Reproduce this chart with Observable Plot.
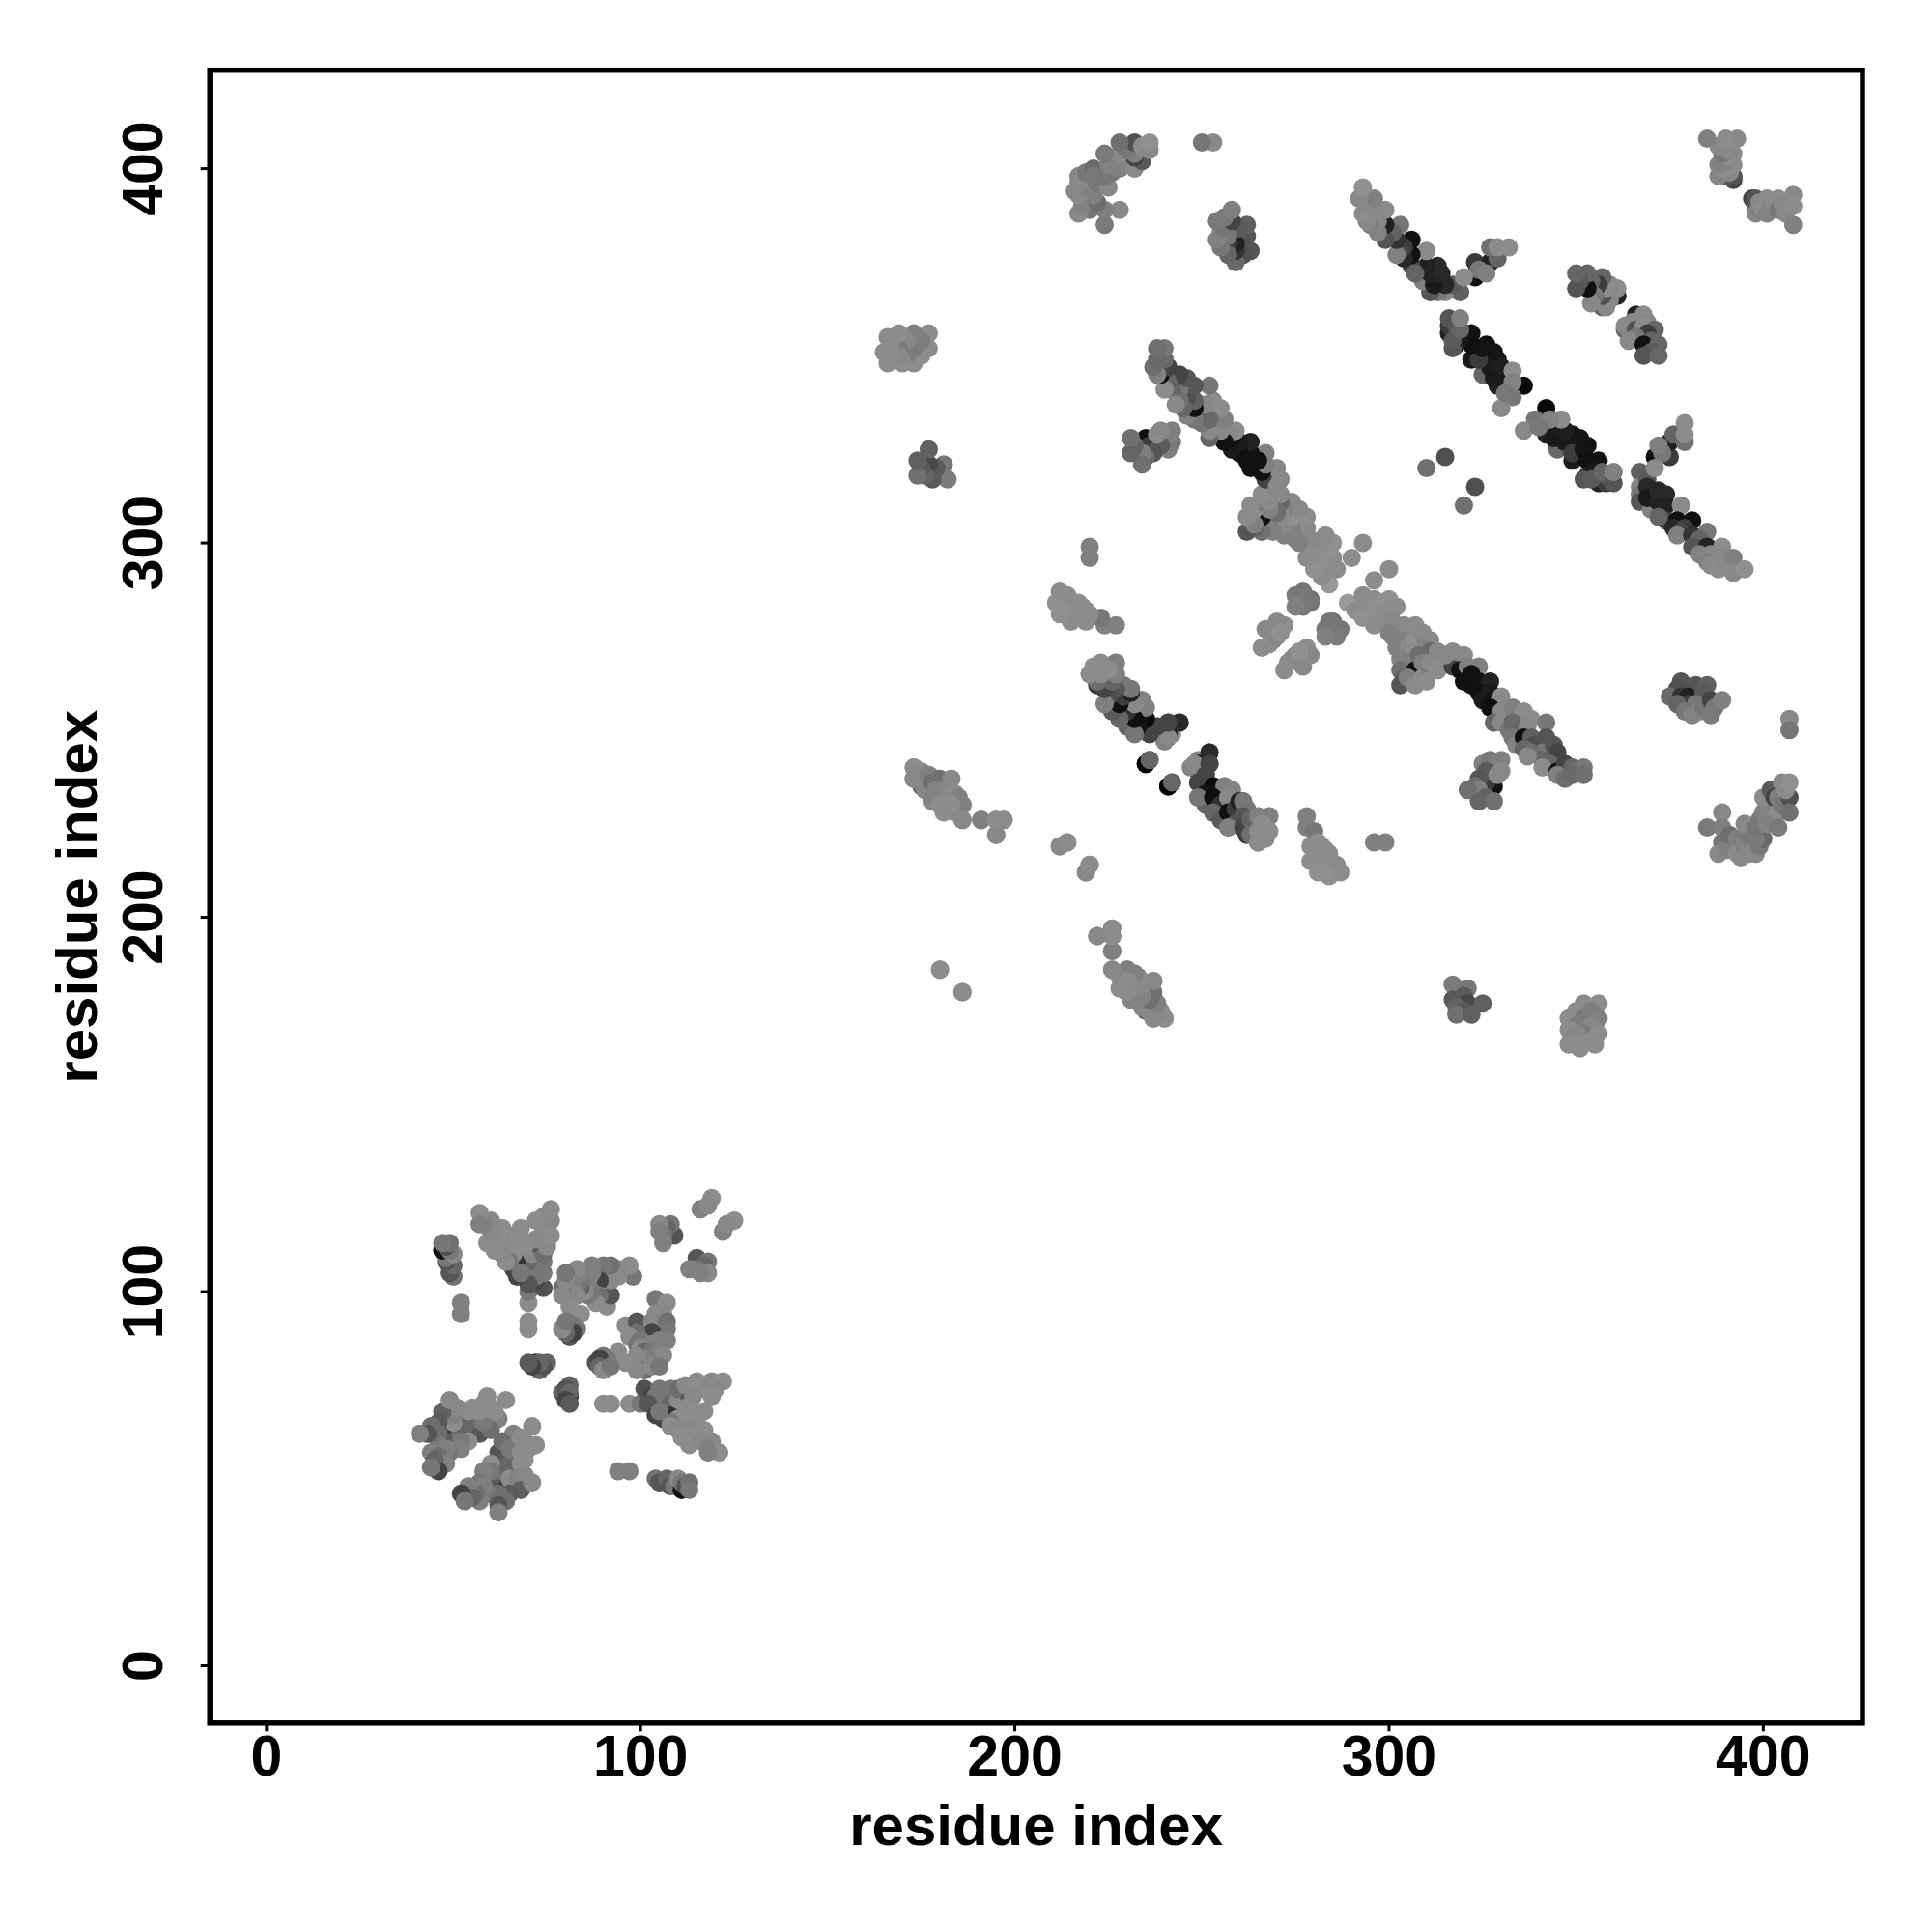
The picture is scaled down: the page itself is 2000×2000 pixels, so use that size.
<!DOCTYPE html>
<html>
<head>
<meta charset="utf-8">
<style>html,body{margin:0;padding:0;background:#fff}</style>
<script src="https://cdn.jsdelivr.net/npm/d3@7"></script>
<script src="https://cdn.jsdelivr.net/npm/@observablehq/plot@0.6"></script>
</head>
<body>
<div id="chart"></div>
<script>
// Each contact: [residue a, residue b, gray level]. The map is symmetric, so one triangle is listed.
const bandTopRight = [[342,336,10],[339,333,119],[336,330,136],[342,331,85],[342,329,34],[345,329,26],[349,329,24],[345,326,26],[349,326,26],[345,325,102],[353,326,17],[349,322,26],[344,328,26],[347,327,26],[351,324,17],[351,328,20],[347,330,30],[349,324,60],[352,325,20],[346,333,140],[343,333,130],[340,331,120],[353,322,17],[356,322,17],[353,318,34],[352,317,85],[355,319,26],[356,316,34],[358,316,60],[354,317,90],[358,318,90],[357,319,102],[360,316,85],[360,319,128]];
const bandBranch = [[367,319,96],[367,315,136],[367,313,119],[367,311,85],[369,317,90],[370,309,128],[370,314,34],[369,315,40],[371,312,34],[369,312,26],[372,311,34],[372,314,40],[374,313,42],[374,310,34],[378,310,138],[371,323,17],[375,323,58],[375,327,34],[373,324,120],[372,326,128],[371,320,140],[376,329,100],[379,327,112],[379,329,140],[379,332,140],[374,306,68],[377,306,17],[381,306,17],[376,304,40],[379,304,60],[372,307,100],[378,303,70],[377,302,128],[381,302,51],[385,303,119],[383,301,100],[381,299,85],[385,299,34],[383,297,130],[389,299,140],[386,297,136],[385,295,128],[386,294,136],[389,296,136],[388,293,140],[390,294,136],[392,296,128],[392,292,136],[395,293,144]];
const blockFarCorner = [[397,392,68],[398,392,85],[398,390,90],[398,388,136],[399,389,128],[399,391,136],[400,389,140],[401,392,140],[401,388,130],[402,390,130],[403,391,140],[404,392,140],[404,389,119],[405,391,136],[406,388,136],[408,393,136],[408,390,140],[408,385,128]];
const blockMidRight = [[366,361,34],[368,361,140],[369,359,136],[365,359,136],[363,357,102],[363,358,136],[366,357,80],[368,358,140],[371,357,102],[369,356,60],[366,355,120],[364,354,136],[370,354,100],[368,353,17],[372,353,102],[370,351,90],[368,350,85],[372,350,102]];
const twoPairs = [[320,310,112],[323,315,80]];
const blockRight = [[378,263,85],[382,262,85],[385,262,96],[377,261,80],[375,259,106],[378,259,51],[380,259,34],[384,260,90],[380,257,60],[377,257,100],[379,255,119],[382,257,119],[383,255,136],[381,254,130],[384,256,119],[386,258,68],[387,256,120],[386,254,122],[389,258,128],[407,253,136],[407,250,119]];
const blockHook = [[385,224,122],[389,228,136],[389,224,128],[389,220,119],[388,217,136],[390,218,130],[391,219,128],[391,222,110],[393,221,128],[393,217,138],[394,216,136],[395,219,130],[396,222,120],[396,217,136],[398,217,136],[395,225,136],[399,219,120],[400,221,106],[398,221,122],[398,224,119],[399,226,120],[401,225,130],[400,228,128],[402,229,130],[400,232,138],[402,234,90],[403,232,68],[404,232,128],[404,228,138],[405,230,120],[404,224,122],[407,232,80],[407,228,112],[406,234,140],[405,236,136],[407,236,143]];
const bandMiddle = [[289,284,153],[291,282,140],[293,286,140],[295,284,140],[296,285,140],[298,284,144],[300,285,144],[293,283,140],[294,281,140],[293,280,144],[296,282,143],[298,280,140],[300,282,140],[302,283,140],[296,278,140],[301,279,136],[300,276,128],[296,290,140],[300,293,140],[304,278,136],[305,276,140],[307,278,140],[304,274,128],[301,275,128],[302,272,128],[305,272,136],[307,274,144],[309,276,136],[311,274,136],[309,272,128],[307,271,140],[311,271,102],[303,269,128],[305,268,128],[303,266,112],[304,264,96],[303,262,85],[306,263,96],[307,266,17],[308,270,110],[305,264,128],[307,262,138],[309,268,128],[309,264,140],[311,266,119],[311,268,136],[310,263,140],[313,271,136],[313,266,140],[315,270,128],[317,267,68],[315,270,136],[317,271,136],[320,270,136],[319,266,17],[321,267,128],[324,267,128]];
const bandMiddleDark = [[320,263,17],[322,265,17],[322,262,17],[324,263,17],[326,261,26],[327,263,34],[324,260,17],[325,258,26],[327,260,26],[328,258,20],[330,259,140],[329,257,136],[327,256,17],[330,255,136],[328,252,102],[331,254,136],[330,252,136],[333,256,128],[334,253,128],[336,255,140],[338,253,140],[332,250,119],[333,252,106],[335,250,102],[333,248,119],[334,246,130],[337,251,136],[336,248,17],[342,252,119],[338,248,96],[339,246,80],[342,248,85],[336,245,102],[341,244,119],[338,244,110],[344,246,85],[345,244,68],[341,242,102],[343,241,102],[341,240,140],[337,243,136],[345,239,17],[347,241,68],[345,238,128],[347,237,110],[349,240,102],[350,239,110],[352,240,119],[349,238,106],[352,238,112]];
const crossSmall = [[285,279,112],[284,279,119],[287,277,119],[283,277,119],[286,275,122],[283,275,128],[272,266,140],[273,268,140],[274,269,140],[277,269,136],[277,267,136],[278,272,140],[279,270,136],[275,270,136],[276,271,144]];
const blockUnderBand = [[328,235,17],[326,236,60],[325,241,128],[327,242,120],[329,241,128],[330,242,128],[326,239,90],[329,238,140],[330,239,136],[324,237,85],[323,235,110],[324,234,128],[321,234,112],[324,231,102],[326,232,100],[328,231,112]];
const bandLower = [[220,265,140],[223,267,144],[225,266,140],[227,268,140],[223,264,144],[226,263,140],[227,265,128],[224,261,58],[222,262,60],[226,259,60],[228,261,80],[231,261,128],[230,259,90],[224,257,128],[228,257,34],[230,255,40],[232,257,138],[234,258,138],[235,256,140],[234,255,20],[228,253,102],[230,251,100],[232,253,10],[235,253,15],[234,251,30],[232,249,119],[236,249,68],[238,251,90],[239,249,100],[241,252,85],[244,252,34],[241,249,0],[242,249,140],[235,241,0],[236,242,102],[241,235,0],[242,236,102],[249,241,0],[250,239,60],[247,240,130],[248,241,136],[252,244,42],[252,241,68],[249,236,68],[251,238,68],[253,235,10],[251,233,20],[255,234,20],[256,235,128],[258,234,130],[249,232,119],[253,232,15],[255,230,50],[257,232,136],[253,228,102],[255,226,90],[257,228,17],[259,229,60],[260,231,34],[262,229,119],[261,231,119],[261,227,85],[259,225,80],[257,224,128],[261,224,68],[263,226,100],[263,222,110],[265,227,128],[268,227,128],[266,225,140],[265,223,140],[268,223,140],[267,221,140],[265,220,140]];
const blockLowerSide = [[278,227,128],[278,224,128],[280,223,119],[281,220,140],[282,219,140],[279,219,140],[280,217,140],[279,215,140],[282,215,140],[284,217,140],[284,215,140],[283,213,140],[281,212,144],[283,212,144],[285,213,144],[286,214,140],[284,211,144],[287,212,140],[283,218,140],[296,220,128],[299,220,128],[212,219,128],[214,220,136],[219,212,136],[220,214,140]];
const blockBottomMid = [[222,195,140],[226,197,140],[226,195,140],[226,191,136],[226,186,140],[228,184,140],[230,186,136],[233,184,140],[232,182,136],[235,182,136],[237,183,136],[230,180,140],[232,178,128],[231,178,136],[234,180,140],[237,179,112],[236,178,120],[234,176,119],[235,175,110],[238,177,128],[237,173,128],[238,174,128],[239,175,140],[240,173,143],[180,186,140],[186,180,140]];
const blockArmLeft = [[173,240,140],[173,237,136],[174,238,136],[175,236,136],[177,238,128],[176,234,136],[178,236,112],[180,237,112],[183,237,136],[179,234,130],[178,232,130],[182,234,136],[184,233,140],[185,232,128],[182,231,136],[180,230,140],[181,228,140],[184,229,136],[186,230,128],[183,230,140],[186,226,136],[191,226,128],[195,226,140],[197,226,140],[195,222,136]];
const blockFarRight = [[317,182,124],[321,181,120],[317,178,90],[320,179,90],[321,177,72],[325,177,96],[318,176,100],[320,175,90],[318,174,112],[322,174,96],[352,177,140],[356,177,140],[348,173,140],[350,175,140],[352,173,122],[354,175,125],[356,173,128],[350,171,125],[354,171,135],[348,170,140],[352,169,122],[350,169,135],[356,169,140],[348,166,140],[350,167,140],[354,167,140],[351,165,140],[355,166,140]];
const smallTop = [[125,119,140],[122,116,128],[123,118,136],[115,109,85],[118,108,119],[117,107,102],[115,106,119],[113,106,128],[118,105,136],[116,105,128]];
const smallCentre = [[104,98,119],[107,97,140],[104,94,140],[106,94,136],[96,91,140],[99,92,85],[103,92,136],[107,92,112],[107,90,119],[103,89,68],[99,89,112],[97,88,140],[99,86,119],[100,87,119],[105,87,128],[107,87,128],[103,86,128],[100,85,140],[101,84,102],[103,84,119],[105,84,128],[94,84,140],[106,83,136],[102,82,128],[100,82,128],[99,83,136],[96,81,140],[101,79,112],[103,80,136],[105,80,119],[99,79,136],[91,82,119],[90,83,119],[88,81,85],[89,82,68],[89,80,102],[90,79,136],[92,80,119]];
const smallCross = [[81,75,102],[79,73,102],[80,74,85],[81,72,34],[81,73,102],[80,71,68],[81,70,90],[90,70,140],[92,70,140],[97,70,140],[100,70,119]];
const smallArm = [[101,74,80],[103,72,68],[105,72,34],[105,70,51],[106,72,85],[104,72,119],[105,74,119],[108,74,119],[102,70,85],[107,72,119],[108,70,102],[104,67,68],[106,66,68],[108,67,51],[105,68,119],[110,71,136],[110,74,110],[113,71,85],[112,75,136],[115,76,140],[116,74,140],[119,76,136],[122,76,140],[120,74,136],[119,72,140],[114,72,136],[112,69,140],[114,68,140],[117,68,140],[115,66,140],[113,65,140],[110,66,140],[108,65,119],[108,64,140],[110,63,136],[112,62,140],[113,63,136],[115,62,140],[117,63,140],[111,61,140],[113,59,140],[116,60,136],[119,60,136],[118,58,128],[121,57,140],[118,57,128]];
const smallFoot = [[94,52,128],[97,52,128],[104,50,112],[105,49,85],[107,50,102],[108,48,85],[109,48,119],[110,50,136],[111,47,17],[111,49,120],[112,48,80],[113,49,112],[113,47,119]];
const smallBand = [[64,50,51],[62,57,85],[64,46,34],[61,47,85],[62,49,85],[63,48,60],[60,50,90],[62,52,110],[64,55,90],[66,48,90],[66,55,110],[66,62,130],[63,60,110],[65,58,120],[71,64,140],[70,58,140],[72,59,140],[69,60,140],[68,61,140],[68,57,140],[64,53,102],[68,54,140],[69,55,140],[60,54,140],[60,52,120],[65,50,140],[67,50,130],[69,51,136],[68,47,96],[65,46,90],[62,46,110],[59,46,120],[62,44,112],[64,44,110],[62,43,85],[62,41,128],[71,49,136],[58,52,128],[57,49,120],[58,48,128],[57,44,128],[56,46,110],[54,48,128],[55,45,100],[52,46,68],[53,44,119]];

const oneTriangle = [
  ...bandTopRight, ...bandBranch, ...blockFarCorner, ...blockMidRight, ...twoPairs,
  ...blockRight, ...blockHook, ...bandMiddle, ...bandMiddleDark, ...crossSmall,
  ...blockUnderBand, ...bandLower, ...blockLowerSide, ...blockBottomMid, ...blockArmLeft,
  ...blockFarRight, ...smallTop, ...smallCentre, ...smallCross, ...smallArm, ...smallFoot, ...smallBand
];
const tickValues = [0, 100, 200, 300, 400];
const axisTitle = "residue index";

const contacts = oneTriangle.flatMap(([a, b, g]) => [
  {x: a, y: b, g},
  {x: b, y: a, g}
]);

const font = "Liberation Sans";
const chart = Plot.plot({
  width: 2000,
  height: 2000,
  marginLeft: 216.7,
  marginRight: 72.5,
  marginTop: 72.2,
  marginBottom: 216.7,
  style: {background: "#fff"},
  x: {domain: [-15.13, 426.5]},
  y: {domain: [-15.3, 426.3]},
  marks: [
    Plot.dot(contacts, {
      x: "x", y: "y", r: 9.5,
      fill: d => `rgb(${d.g},${d.g},${d.g})`,
      stroke: "none"
    }),
    Plot.frame({stroke: "#000", strokeWidth: 5.5}),
    Plot.axisX({
      ticks: tickValues, tickFormat: d3.format("d"), label: null,
      tickSize: 9, strokeWidth: 3, tickPadding: 3.5,
      fontFamily: font, fontWeight: "bold", fontSize: 59, color: "#000"
    }),
    Plot.axisY({
      ticks: tickValues, tickFormat: d3.format("d"), label: null,
      tickSize: 9, strokeWidth: 3, tickPadding: 40, tickRotate: -90,
      fontFamily: font, fontWeight: "bold", fontSize: 59, color: "#000"
    }),
    Plot.text([axisTitle], {
      frameAnchor: "bottom", dy: 126, text: d => d, lineAnchor: "bottom",
      fontFamily: font, fontWeight: "bold", fontSize: 60, fill: "#000"
    }),
    Plot.text([axisTitle], {
      frameAnchor: "left", dx: -117, text: d => d, rotate: -90,
      lineAnchor: "bottom", textAnchor: "middle",
      fontFamily: font, fontWeight: "bold", fontSize: 60, fill: "#000"
    })
  ]
});
document.getElementById("chart").appendChild(chart);
</script>
</body>
</html>
